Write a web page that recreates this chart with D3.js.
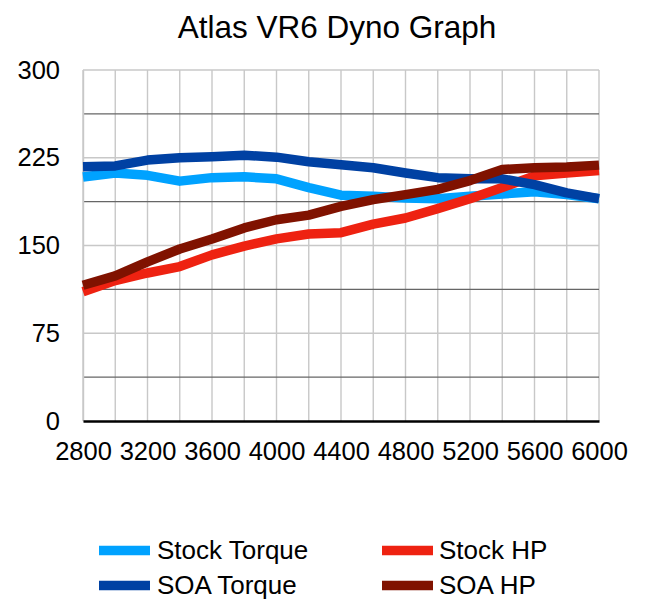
<!DOCTYPE html>
<html>
<head>
<meta charset="utf-8">
<script src="https://cdn.jsdelivr.net/npm/d3@7"></script>
<style>
  html, body { margin: 0; padding: 0; background: #fff; }
  svg { display: block; font-family: "Liberation Sans", Arial, sans-serif; }
</style>
</head>
<body>
<svg id="chart" width="645" height="599"></svg>
<script>
const rpm = [2800, 3000, 3200, 3400, 3600, 3800, 4000, 4200, 4400, 4600, 4800, 5000, 5200, 5400, 5600, 5800, 6000];
const stockTorque = [208.5, 212, 210, 205, 208, 208.7, 207, 199.5, 193, 192, 190.7, 190, 192, 194, 196, 193.5, 190];
const soaTorque   = [217.3, 218, 223, 225, 225.8, 227.2, 225.5, 221.6, 219, 216.5, 212, 208, 207, 207, 202, 195, 190];
const stockHP     = [110.5, 120, 126.5, 132, 142, 149.5, 155.7, 159.8, 161, 168.3, 173.5, 181.5, 190, 199.5, 209.5, 212, 214];
const soaHP       = [116, 124, 136, 147, 155.5, 165, 172, 176, 183.5, 189.2, 193.5, 198, 205.5, 215, 216.5, 217, 218.7];
const seriesNames = ["Stock Torque", "Stock HP", "SOA Torque", "SOA HP"];
const xTickLabels = [2800, 3200, 3600, 4000, 4400, 4800, 5200, 5600, 6000];
const yTickLabels = [0, 75, 150, 225, 300];
const title = "Atlas VR6 Dyno Graph";

const seriesValues = [stockTorque, stockHP, soaTorque, soaHP];
const colors = ["#00a2ff", "#ee2211", "#0041a3", "#801200"];

const svg = d3.select("#chart");
const x = d3.scaleLinear().domain([2800, 6000]).range([83, 599]);
const y = d3.scaleLinear().domain([0, 300]).range([421, 70]);

// Title
svg.append("text")
  .attr("x", 337).attr("y", 38)
  .attr("text-anchor", "middle")
  .attr("font-size", "31.5px")
  .attr("fill", "#000")
  .text(title);

// Vertical gridlines
svg.append("g").selectAll("line")
  .data(rpm)
  .join("line")
  .attr("x1", d => x(d)).attr("x2", d => x(d))
  .attr("y1", y(300)).attr("y2", y(0))
  .attr("stroke", "#c8c8c8").attr("stroke-width", 1.4);

// Horizontal gridlines
const hVals = d3.range(0, 300.01, 37.5).filter(v => v > 0);
svg.append("g").selectAll("line")
  .data(hVals)
  .join("line")
  .attr("x1", x(2800)).attr("x2", x(6000))
  .attr("y1", d => y(d)).attr("y2", d => y(d))
  .attr("stroke", d => (d % 75 === 0) ? "#c8c8c8" : "#666666")
  .attr("stroke-width", 1.4);

// Y axis labels
const yAxis = svg.append("g")
  .attr("transform", `translate(${x(2800)},0)`)
  .call(d3.axisLeft(y).tickValues(yTickLabels).tickSize(0).tickPadding(23).tickFormat(d3.format("d")));
yAxis.select(".domain").attr("stroke", "#c8c8c8").attr("stroke-width", 1.4);
yAxis.selectAll("text").attr("font-size", "25.5px").attr("fill", "#000").attr("font-family", "'Liberation Sans', Arial, sans-serif");

// X axis
const xAxis = svg.append("g")
  .attr("transform", `translate(0,${y(0)})`)
  .call(d3.axisBottom(x).tickValues(xTickLabels).tickSize(0).tickPadding(21).tickFormat(d3.format("d")));
xAxis.select(".domain").attr("stroke", "#000").attr("stroke-width", 2.6);
xAxis.selectAll("text").attr("font-size", "25.5px").attr("fill", "#000").attr("font-family", "'Liberation Sans', Arial, sans-serif");

// Lines
const line = d3.line().x((d, i) => x(rpm[i])).y(d => y(d));
svg.append("g").selectAll("path")
  .data(seriesValues)
  .join("path")
  .attr("d", d => line(d))
  .attr("fill", "none")
  .attr("stroke", (d, i) => colors[i])
  .attr("stroke-width", 9.5)
  .attr("stroke-linejoin", "round")
  .attr("stroke-linecap", "butt");

// Legend
const legendPos = [
  {sx: 99, tx: 157, cy: 550.5},
  {sx: 382, tx: 439, cy: 550.5},
  {sx: 99, tx: 157, cy: 585.5},
  {sx: 382, tx: 439, cy: 585.5}
];
const lg = svg.append("g").selectAll("g")
  .data(seriesNames)
  .join("g");
lg.append("line")
  .attr("x1", (d, i) => legendPos[i].sx).attr("x2", (d, i) => legendPos[i].sx + 51)
  .attr("y1", (d, i) => legendPos[i].cy).attr("y2", (d, i) => legendPos[i].cy)
  .attr("stroke", (d, i) => colors[i]).attr("stroke-width", 9.5);
lg.append("text")
  .attr("x", (d, i) => legendPos[i].tx)
  .attr("y", (d, i) => legendPos[i].cy + 8.5)
  .attr("font-size", "26px")
  .attr("fill", "#000")
  .text(d => d);
</script>
</body>
</html>
